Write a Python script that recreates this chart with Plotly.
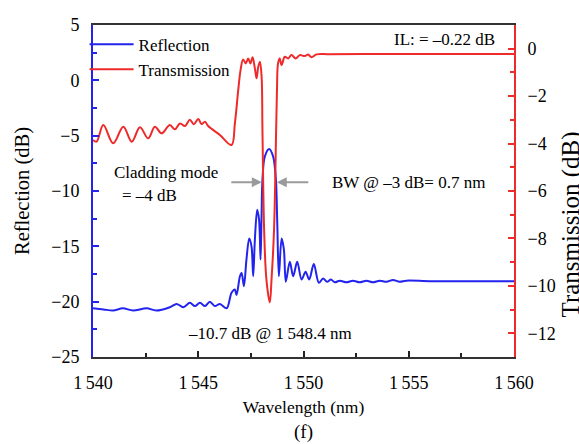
import plotly.graph_objects as go

# ---------------- data ----------------
wavelength_refl = [
    1540.00, 1540.50, 1540.95, 1541.42, 1541.90, 1542.55, 1543.00, 1543.65, 1543.97,
    1544.29, 1544.60, 1544.84, 1545.08, 1545.32, 1545.55, 1545.79, 1546.03, 1546.35,
    1546.58, 1546.74, 1546.82, 1546.98, 1547.06, 1547.17, 1547.29, 1547.42, 1547.53,
    1547.61, 1547.69, 1547.80, 1547.89, 1547.96, 1548.01, 1548.05, 1548.16, 1548.37,
    1548.56, 1548.69, 1548.75, 1548.83, 1548.96, 1549.07, 1549.16, 1549.35, 1549.51,
    1549.70, 1549.91, 1550.10, 1550.27, 1550.49, 1550.73, 1550.93, 1551.12, 1551.30,
    1551.49, 1551.72, 1552.04, 1552.35, 1552.67, 1552.99, 1553.30, 1553.62, 1553.94,
    1554.25, 1554.57, 1554.89, 1556.00, 1558.00, 1560.00,
]
reflection_db = [
    -20.6, -20.7, -20.8, -20.6, -20.8, -20.6, -20.8, -20.5, -20.2,
    -20.5, -20.1, -20.4, -20.1, -20.4, -20.0, -20.4, -20.2, -20.6,
    -19.2, -18.9, -19.4, -17.7, -17.4, -18.6, -16.2, -14.3, -15.0,
    -17.7, -14.4, -11.7, -12.6, -16.2, -12.0, -9.0, -6.9, -6.2,
    -6.9, -9.0, -12.6, -17.7, -14.3, -15.3, -18.2, -16.4, -17.7,
    -16.4, -18.0, -17.3, -18.0, -16.6, -18.3, -17.9, -18.2, -18.0,
    -18.25, -18.1, -18.25, -18.1, -18.25, -18.1, -18.25, -18.1, -18.2,
    -18.05, -18.2, -18.1, -18.15, -18.15, -18.15,
]

wavelength_trans = [
    1540.00, 1540.17, 1540.49, 1540.96, 1541.44, 1541.84, 1542.23, 1542.62, 1542.94,
    1543.26, 1543.65, 1543.89, 1544.13, 1544.37, 1544.60, 1544.79, 1545.00, 1545.16,
    1545.32, 1545.47, 1546.03, 1546.58, 1546.74, 1546.90, 1547.01, 1547.13, 1547.26,
    1547.37, 1547.48, 1547.58, 1547.69, 1547.77, 1547.85, 1547.93, 1548.01, 1548.05,
    1548.13, 1548.24, 1548.40, 1548.48, 1548.60, 1548.70, 1548.74, 1548.79, 1548.87,
    1548.96, 1549.11, 1549.27, 1549.43, 1549.63, 1549.82, 1550.06, 1550.22, 1550.38,
    1550.62, 1551.17, 1553.00, 1556.00, 1560.00,
]
transmission_db = [
    -3.85, -3.92, -3.22, -3.99, -3.29, -3.92, -3.31, -3.78, -3.29,
    -3.57, -3.22, -3.40, -3.15, -3.26, -3.00, -3.18, -2.96, -3.18,
    -3.08, -3.26, -3.64, -4.06, -3.15, -1.74, -0.90, -0.45, -0.62,
    -0.41, -0.62, -0.36, -0.83, -1.25, -0.76, -0.55, -1.18, -3.43,
    -7.65, -9.75, -10.7, -9.75, -7.65, -3.43, -1.74, -0.62, -0.41,
    -0.69, -0.34, -0.41, -0.27, -0.41, -0.27, -0.31, -0.24, -0.36,
    -0.24, -0.23, -0.22, -0.22, -0.22,
]

x_tick_values = [1540, 1545, 1550, 1555, 1560]
x_tick_labels = ["1\u2009540", "1\u2009545", "1\u2009550", "1\u2009555", "1\u2009560"]
x_minor_values = [1542.5, 1547.5, 1552.5, 1557.5]

bw_left_edge = 1548.02
bw_right_edge = 1548.73
bw_level_db = -9.2

# ---------------- styling ----------------
BLUE = "#2323ee"
RED = "#ee2a2a"
FONT = "Liberation Serif, Times New Roman, serif"
GREY = "#9a9a9a"

fig = go.Figure()
fig.add_trace(go.Scatter(
    x=wavelength_refl, y=reflection_db, name="Reflection", mode="lines",
    line=dict(color=BLUE, width=2, shape="spline", smoothing=0.9), yaxis="y"))
fig.add_trace(go.Scatter(
    x=wavelength_trans, y=transmission_db, name="Transmission", mode="lines",
    line=dict(color=RED, width=2, shape="spline", smoothing=1.0), yaxis="y2"))

fig.update_layout(
    width=579, height=444,
    margin=dict(l=93, r=65, t=25, b=87),
    paper_bgcolor="white", plot_bgcolor="white",
    font=dict(family=FONT, size=17, color="black"),
    showlegend=True,
    legend=dict(x=-0.02, y=0.995, xanchor="left", yanchor="top",
                bgcolor="rgba(0,0,0,0)", font=dict(family=FONT, size=17),
                borderwidth=0, itemwidth=44),
    xaxis=dict(
        range=[1540, 1560], tickmode="array", tickvals=x_tick_values, ticktext=x_tick_labels,
        ticks="inside", ticklen=6, tickwidth=1.5, tickcolor="#222",
        showline=True, linecolor="#333", linewidth=2, mirror=True,
        showgrid=False, zeroline=False, ticklabelstandoff=8, automargin=False,
        tickfont=dict(family=FONT, size=18),
        minor=dict(tickmode="array", tickvals=x_minor_values, ticks="inside",
                   ticklen=4, tickwidth=1.5, tickcolor="#222", showgrid=False),
        title=dict(text="Wavelength (nm)", font=dict(family=FONT, size=17.5), standoff=9),
    ),
    yaxis=dict(
        range=[-25, 5], tick0=0, dtick=5,
        ticks="inside", ticklen=6, tickwidth=1.5, tickcolor=BLUE,
        showline=True, linecolor=BLUE, linewidth=2,
        showgrid=False, zeroline=False, ticklabelstandoff=8, automargin=False,
        tickfont=dict(family=FONT, size=18),
        minor=dict(dtick=2.5, ticks="inside", ticklen=4, tickwidth=1.5,
                   tickcolor=BLUE, showgrid=False),
        title=dict(text="Reflection (dB)", font=dict(family=FONT, size=20.5), standoff=16),
    ),
    yaxis2=dict(
        overlaying="y", side="right", anchor="x",
        range=[-13, 1], tick0=0, dtick=2,
        ticks="inside", ticklen=6, tickwidth=1.5, tickcolor=RED,
        showline=True, linecolor=RED, linewidth=2,
        showgrid=False, zeroline=False, ticklabelstandoff=8, automargin=False,
        tickfont=dict(family=FONT, size=18),
        minor=dict(dtick=1, ticks="inside", ticklen=4, tickwidth=1.5,
                   tickcolor=RED, showgrid=False),
    ),
)

annotations = [
    dict(text="IL: = \u20130.22 dB", xref="paper", yref="paper", x=0.834, y=0.955,
         showarrow=False, xanchor="center", yanchor="middle"),
    dict(text="Cladding mode", xref="paper", yref="paper", x=0.045, y=0.557,
         showarrow=False, xanchor="left", yanchor="middle"),
    dict(text="= \u20134 dB", xref="paper", yref="paper", x=0.064, y=0.485,
         showarrow=False, xanchor="left", yanchor="middle"),
    dict(text="BW @ \u20133 dB= 0.7 nm", xref="paper", yref="paper", x=0.562, y=0.527,
         showarrow=False, xanchor="left", yanchor="middle"),
    dict(text="\u201310.7 dB @ 1\u2009548.4 nm", xref="paper", yref="paper", x=0.221, y=0.072,
         showarrow=False, xanchor="left", yanchor="middle"),
    dict(text="(f)", xref="paper", yref="paper", x=0.5, y=-0.226,
         showarrow=False, xanchor="center", yanchor="middle", font=dict(size=19)),
    # right axis title (close to the image edge as in the reference)
    dict(text="Transmission (dB)", xref="paper", yref="paper", x=1.098, y=0.40,
         showarrow=False, textangle=-90, xanchor="left", yanchor="middle",
         font=dict(family=FONT, size=25)),
    # bandwidth arrows
    dict(text="", xref="x", yref="y", x=bw_left_edge, y=bw_level_db,
         ax=-32, ay=0, axref="pixel", ayref="pixel", showarrow=True,
         arrowhead=2, arrowsize=1, arrowwidth=2, arrowcolor=GREY),
    dict(text="", xref="x", yref="y", x=bw_right_edge, y=bw_level_db,
         ax=33, ay=0, axref="pixel", ayref="pixel", showarrow=True,
         arrowhead=2, arrowsize=1, arrowwidth=2, arrowcolor=GREY),
]
fig.update_layout(annotations=annotations)

fig.write_html("out.html", config={"displayModeBar": False},
               post_script="document.body.style.margin='0';")
